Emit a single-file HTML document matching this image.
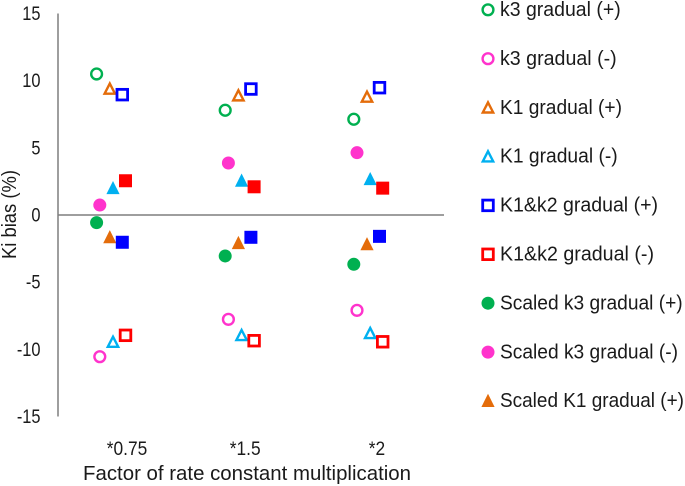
<!DOCTYPE html>
<html lang="en">
<head>
<meta charset="utf-8">
<title>Ki bias chart</title>
<style>
html,body{margin:0;padding:0;background:#fff;width:685px;height:486px;overflow:hidden}
svg{display:block}
text{font-family:"Liberation Sans",sans-serif;fill:#1a1a1a}
</style>
</head>
<body>
<svg id="chart" width="685" height="486" viewBox="0 0 685 486" xmlns="http://www.w3.org/2000/svg"></svg>
<script>
// Data
const categories = ['*0.75', '*1.5', '*2'];
const yTicks = [15, 10, 5, 0, -5, -10, -15];
const k3GradualPlus = [10.5, 7.8, 7.13];
const k3GradualMinus = [-10.55, -7.77, -7.1];
const k1GradualPlus = [9.4, 8.9, 8.8];
const k1GradualMinus = [-9.45, -8.95, -8.8];
const k1k2GradualPlus = [8.96, 9.38, 9.48];
const k1k2GradualMinus = [-8.96, -9.36, -9.44];
const scaledK3Plus = [-0.57, -3.05, -3.67];
const scaledK3Minus = [0.74, 3.87, 4.64];
const scaledK1Plus = [-1.66, -2.09, -2.18];
const scaledK1Minus = [2.0, 2.55, 2.67];
const scaledK1k2Plus = [-2.03, -1.66, -1.59];
const scaledK1k2Minus = [2.55, 2.1, 2.0];

// Series appearance
const GREEN = '#00b050', PINK = '#ff33cc', ORANGE = '#e46c0a', CYAN = '#00b0f0', BLUE = '#0000ff', RED = '#ff0000';
const series = [
  {name: 'k3 gradual (+)', values: k3GradualPlus, shape: 'circle', color: GREEN, filled: false, dodge: -25.7, legendWidth: 120.7},
  {name: 'k3 gradual (-)', values: k3GradualMinus, shape: 'circle', color: PINK, filled: false, dodge: -22.5, legendWidth: 116.7},
  {name: 'K1 gradual (+)', values: k1GradualPlus, shape: 'triangle', color: ORANGE, filled: false, dodge: -12.5, legendWidth: 122},
  {name: 'K1 gradual (-)', values: k1GradualMinus, shape: 'triangle', color: CYAN, filled: false, dodge: -9.3, legendWidth: 117.7},
  {name: 'K1&k2 gradual (+)', values: k1k2GradualPlus, shape: 'square', color: BLUE, filled: false, dodge: 0, legendWidth: 158},
  {name: 'K1&k2 gradual (-)', values: k1k2GradualMinus, shape: 'square', color: RED, filled: false, dodge: 3.2, legendWidth: 154},
  {name: 'Scaled k3 gradual (+)', values: scaledK3Plus, shape: 'circle', color: GREEN, filled: true, dodge: -25.7, legendWidth: 182.7},
  {name: 'Scaled k3 gradual (-)', values: scaledK3Minus, shape: 'circle', color: PINK, filled: true, dodge: -22.5, legendWidth: 178},
  {name: 'Scaled K1 gradual (+)', values: scaledK1Plus, shape: 'triangle', color: ORANGE, filled: true, dodge: -12.5, legendWidth: 184},
  {name: 'Scaled K1 gradual (-)', values: scaledK1Minus, shape: 'triangle', color: CYAN, filled: true, dodge: -9.3, inLegend: false},
  {name: 'Scaled K1&k2 gradual (+)', values: scaledK1k2Plus, shape: 'square', color: BLUE, filled: true, dodge: 0, inLegend: false},
  {name: 'Scaled K1&k2 gradual (-)', values: scaledK1k2Minus, shape: 'square', color: RED, filled: true, dodge: 3.2, inLegend: false}
];

// Axis functions
const svg = document.getElementById('chart');
const NS = 'http://www.w3.org/2000/svg';
const yScale = v => 215 - v * 13.43;
const xScale = i => 122.3 + 128.6 * i;
const categoryLabelNudge = i => (i === 0 ? 4.7 : i === 1 ? -5.7 : -2.5);

function make(tag, attrs, parent) {
  const el = document.createElementNS(NS, tag);
  for (const k in attrs) el.setAttribute(k, attrs[k]);
  (parent || svg).appendChild(el);
  return el;
}

function condense(el, ratio) {
  el.setAttribute('textLength', (el.getComputedTextLength() * ratio).toFixed(2));
  el.setAttribute('lengthAdjust', 'spacingAndGlyphs');
}

function drawMarker(parent, shape, cx, cy, color, filled) {
  const fill = filled ? color : '#fff';
  if (shape === 'circle') {
    make('circle', {cx: cx, cy: cy, r: filled ? 6.5 : 5.4, fill: fill, stroke: color, 'stroke-width': filled ? 0 : 2.4}, parent);
  } else if (shape === 'square') {
    const s = filled ? 13 : 10.6;
    make('rect', {x: cx - s / 2, y: cy - s / 2, width: s, height: s, fill: fill, stroke: color, 'stroke-width': filled ? 0 : 2.8}, parent);
  } else {
    const pts = filled
      ? [[cx, cy - 7.2], [cx + 6.6, cy + 6], [cx - 6.6, cy + 6]]
      : [[cx, cy - 5.2], [cx + 5.2, cy + 4.9], [cx - 5.2, cy + 4.9]];
    make('polygon', {points: pts.map(p => p.join(',')).join(' '), fill: fill, stroke: color, 'stroke-width': filled ? 0 : 2.4}, parent);
  }
}

// Axes
const yAxis = make('line', {x1: 58, x2: 58, y1: yScale(15), y2: yScale(-15), stroke: '#7f7f7f', 'stroke-width': 1.5});


const xAxis = make('line', {x1: 58, x2: 444, y1: yScale(0), y2: yScale(0), stroke: '#7f7f7f', 'stroke-width': 1.5});



// Y tick labels
yTicks.forEach(t => {
  const label = make('text', {x: 40.5, y: yScale(t) + 6.5, 'text-anchor': 'end', 'font-size': 19.5});
  
  
  label.textContent = t;
  condense(label, 0.84);
});

// Category labels
categories.forEach((c, i) => {
  const label = make('text', {x: xScale(i) + categoryLabelNudge(i), y: 455, 'text-anchor': 'middle', 'font-size': 19.5});
  
  
  label.textContent = c;
  condense(label, 0.89);
});

// Axis titles
const xTitle = make('text', {x: 83, y: 480, 'font-size': 20.5, textLength: 328, lengthAdjust: 'spacingAndGlyphs'});


xTitle.textContent = 'Factor of rate constant multiplication';

const yTitle = make('text', {transform: 'translate(16,259) rotate(-90)', 'font-size': 20.5, textLength: 89, lengthAdjust: 'spacingAndGlyphs'});


yTitle.textContent = 'Ki bias (%)';

// Series marks
series.forEach(s => {
  const group = make('g', {});
  
  
  s.values.forEach((v, i) => {
    drawMarker(group, s.shape, xScale(i) + s.dodge, yScale(v), s.color, s.filled);
  });
});

// Legend
const legendRows = series.filter(s => s.inLegend !== false);
legendRows.forEach((s, i) => {
  const cy = 9.8 + 48.9 * i;
  const entry = make('g', {});
  
  
  drawMarker(entry, s.shape, 488, cy, s.color, s.filled);
  const label = make('text', {x: 500, y: cy + 6.2, 'font-size': 20.5, textLength: s.legendWidth, lengthAdjust: 'spacingAndGlyphs'}, entry);
  label.textContent = s.name;
});
</script>
</body>
</html>
